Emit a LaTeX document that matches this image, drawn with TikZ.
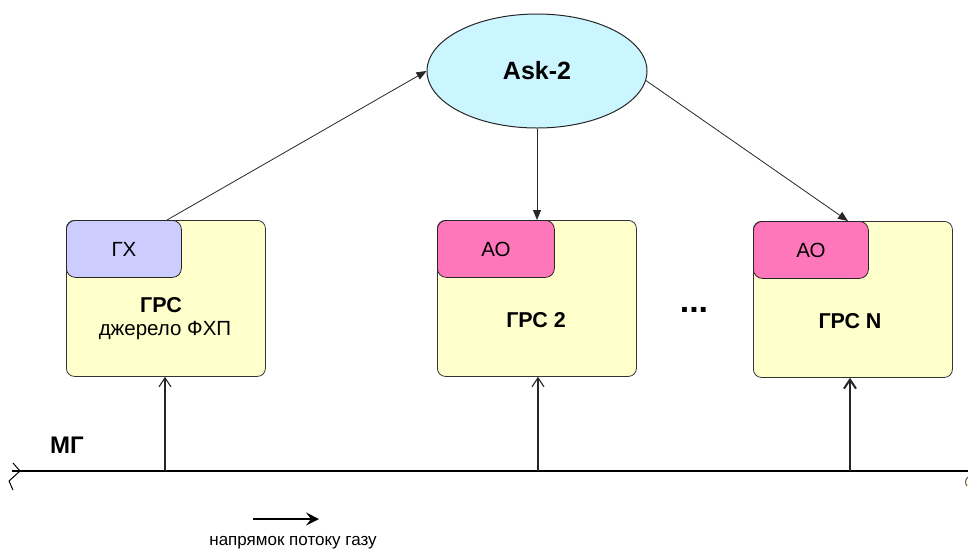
\documentclass[tikz,border=0pt]{standalone}
\usepackage{fontspec}
\setmainfont{Liberation Sans}
\usetikzlibrary{arrows.meta,shapes.geometric,calc}
\definecolor{boxyellow}{RGB}{255,255,204}
\definecolor{gxblue}{RGB}{204,204,255}
\definecolor{aopink}{RGB}{255,119,187}
\definecolor{askcyan}{RGB}{204,246,255}
\begin{document}
\begin{tikzpicture}[x=1pt,y=-1pt,
  grs/.style={draw=black!80, fill=boxyellow, rounded corners=8pt, line width=0.8pt,
    minimum width=199pt, minimum height=156pt, inner sep=0pt, anchor=north west},
  subbox/.style={draw=black!85, rounded corners=9pt, line width=0.8pt,
    minimum width=115pt, minimum height=57pt, inner sep=0pt, anchor=north west},
  lbl/.style={font=\fontsize{20.5}{24}\selectfont, inner sep=0pt},
  blbl/.style={font=\fontsize{21.5}{24}\selectfont\bfseries, inner sep=0pt},
  thinarrow/.style={draw=black!85, line width=0.8pt, -{Triangle[length=10pt,width=8pt]}},
  vline/.style={draw=black!85, line width=1.1pt, -{Straight Barb[length=9pt,width=12pt]}},
]
\useasboundingbox (0,0) rectangle (968,550);

% Ask-2 ellipse
\node[ellipse, draw=black!85, line width=1pt, fill=askcyan, minimum width=220pt,
  minimum height=114pt, inner sep=0pt, font=\fontsize{25}{28}\selectfont\bfseries]
  (ask) at (537,71) {Ask-2};

% boxes
\node[grs] (g1) at (66,220) {};
\node[subbox, fill=gxblue] (gx) at (66,220) {};
\node[lbl] (tgx) at (124,249) {ГХ};
\node[blbl] (tg1) at (161,305) {ГРС};
\node[lbl] (tg1b) at (165,331) {джерело ФХП};

\node[grs] (g2) at (437,220) {};
\node[subbox, fill=aopink, minimum width=117pt] (ao2) at (437,220) {};
\node[lbl] (tao2) at (496,249) {АО};
\node[blbl] (tg2) at (536,320) {ГРС 2};

\node[grs] (g3) at (753,221) {};
\node[subbox, fill=aopink] (ao3) at (753,221) {};
\node[lbl] (tao3) at (811,250) {АО};
\node[blbl] (tg3) at (850,321) {ГРС N};

\node[font=\fontsize{34}{38}\selectfont\bfseries, inner sep=0pt] (dots) at (694,310) {...};

% arrows from/to Ask-2
\coordinate (s1) at ($(g1.north west)+(101,0)$);
\draw[thinarrow] (s1) -- (ask.west);
\draw[thinarrow] (ask.south) -- (ask.south |- g2.north);
\coordinate (e3) at ($(g3.north west)+(95,0)$);
\draw[thinarrow] (ask.-5) -- (e3);

% main gas line
\coordinate (mgL) at (12,471);
\coordinate (mgR) at (968,471);
\draw[line width=2.4pt] (mgL) -- (mgR);
\draw[line width=1pt, line join=round] (13,463) -- (20,471) -- (9,481) -- (13,490);
\draw[line width=1pt, brown!60!black] (968,477) .. controls (965,479) and (965,484) .. (967,486);
\node[font=\fontsize{24}{26}\selectfont\bfseries, inner sep=0pt] (mg) at (67,445) {МГ};

% vertical connectors
\coordinate (m1) at (165,471);
\coordinate (m2) at (538,471);
\coordinate (m3) at (850,471);
\draw[vline] (m1) -- (m1 |- g1.south);
\draw[vline] (m2) -- (m2 |- g2.south);
\draw[vline, line width=2pt] (m3) -- (m3 |- g3.south);

% flow direction
\coordinate (d1) at (253,519);
\coordinate (d2) at (319,519);
\draw[line width=1.6pt, -{Stealth[length=13pt,width=13pt,inset=5pt]}] (d1) -- (d2);
\node[font=\fontsize{17}{19}\selectfont, inner sep=0pt, anchor=base] (flow) at (293,545.5) {напрямок потоку газу};
\end{tikzpicture}
\end{document}
